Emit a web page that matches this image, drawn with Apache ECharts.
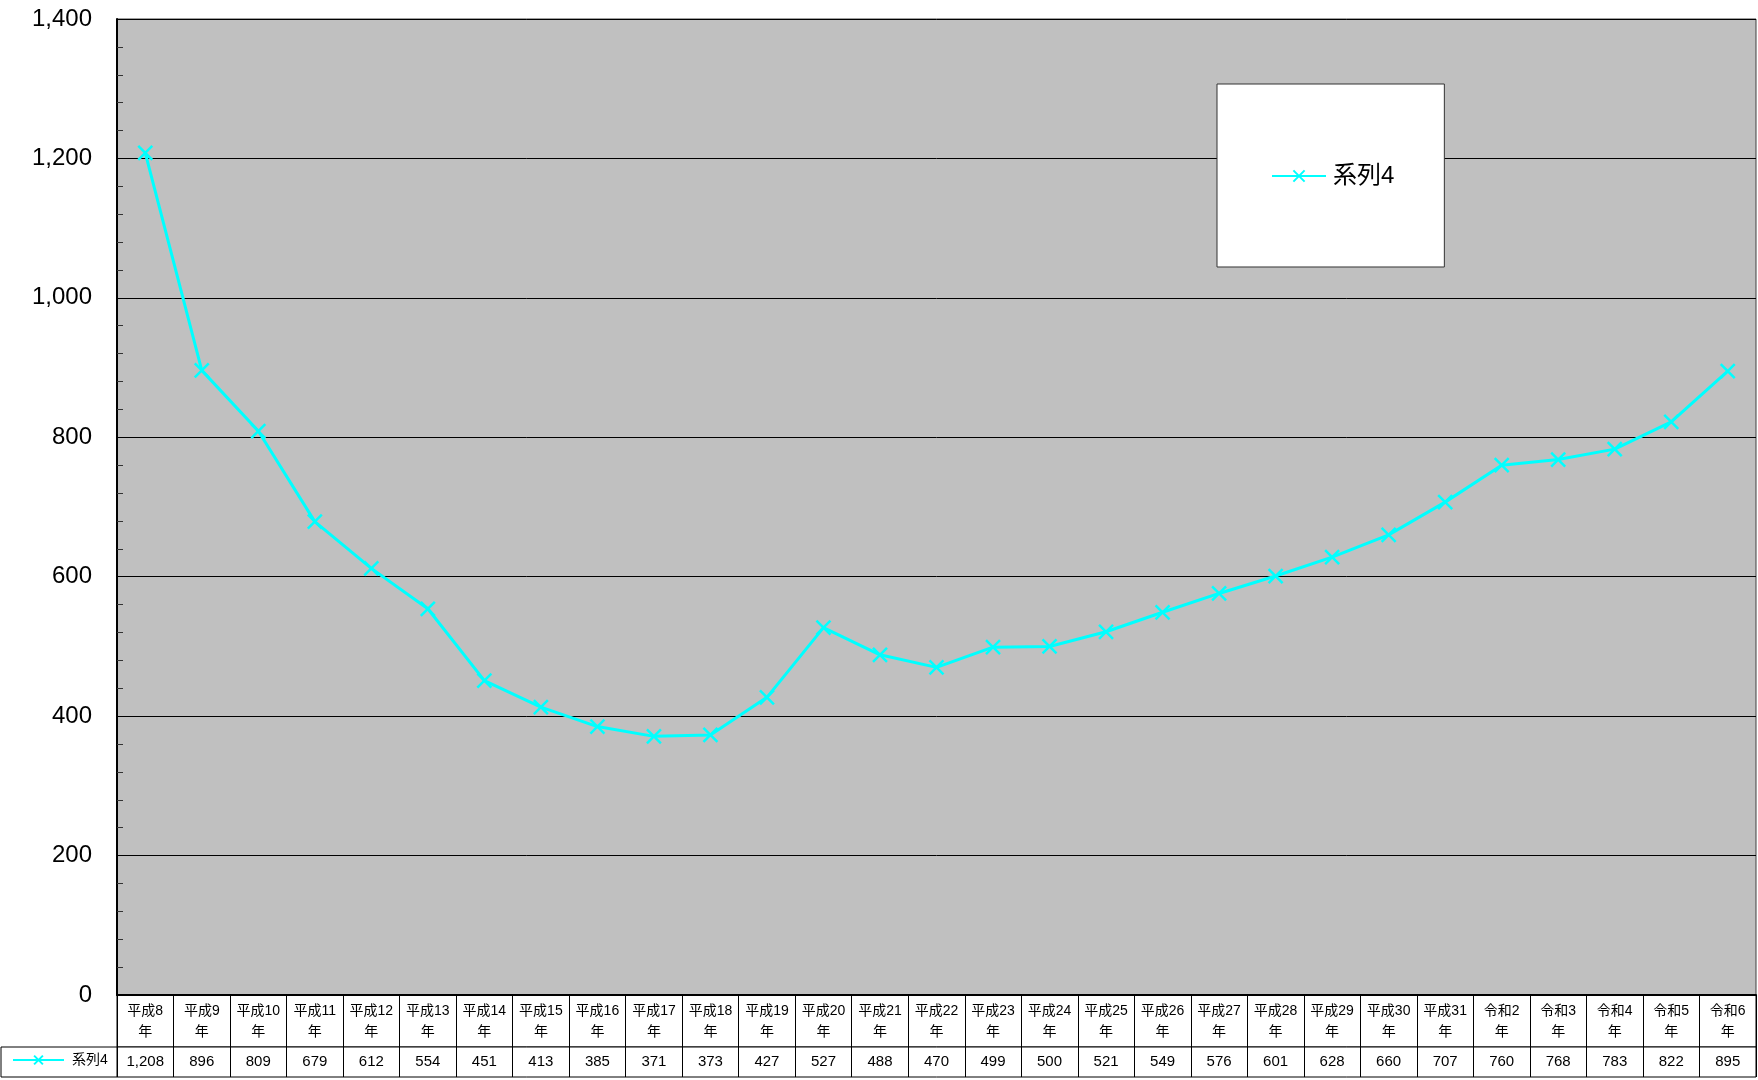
<!DOCTYPE html>
<html>
<head>
<meta charset="utf-8">
<script src="https://cdn.jsdelivr.net/npm/echarts@6/dist/echarts.min.js"></script>
<style>
html,body{margin:0;padding:0;background:#fff;}
#c{width:1758px;height:1080px;}
</style>
</head>
<body>
<div id="c"></div>
<script>
var categories = ['平成8年','平成9年','平成10年','平成11年','平成12年','平成13年','平成14年','平成15年','平成16年','平成17年','平成18年','平成19年','平成20年','平成21年','平成22年','平成23年','平成24年','平成25年','平成26年','平成27年','平成28年','平成29年','平成30年','平成31年','令和2年','令和3年','令和4年','令和5年','令和6年'];
var seriesName = '系列4';
var values = [1208,896,809,679,612,554,451,413,385,371,373,427,527,488,470,499,500,521,549,576,601,628,660,707,760,768,783,822,895];
var yTicks = {min:0, max:1400, interval:200};

var FONT = "'Liberation Sans','Noto Sans CJK JP',sans-serif";
var CYAN = '#00FFFF';
var crossSymbol = 'path://M0,0L10,10M10,0L0,10';

function headerLabel(c){ return c.replace(/年$/, '') + '\n年'; }
function fmt(v){ return v.toLocaleString('en-US'); }

var chart = echarts.init(document.getElementById('c'));
chart.setOption({
  animation:false,
  backgroundColor:'#ffffff',
  textStyle:{fontFamily:FONT},
  grid:[
    {left:117, top:19, right:2, height:976, show:true, backgroundColor:'#C0C0C0', borderColor:'#404040', borderWidth:1},
    {left:117, top:995, right:2, height:52, show:true, borderColor:'#000', borderWidth:1, backgroundColor:'#fff'},
    {left:117, top:1047, right:2, height:30, show:true, borderColor:'#000', borderWidth:1, backgroundColor:'#fff'},
    {left:1, top:1047, width:116, height:30, show:true, borderColor:'#000', borderWidth:1, backgroundColor:'#fff'}
  ],
  legend:[
    {
      left:1217, top:84,
      padding:[80,50,79,54],
      backgroundColor:'#fff', borderColor:'#333', borderWidth:1,
      itemWidth:54, itemHeight:14, itemGap:0,
      textStyle:{fontSize:24, color:'#000', fontFamily:FONT, padding:[0,0,0,2]},
      data:[seriesName]
    },
    {
      left:12, top:1053, padding:0,
      itemWidth:51, itemHeight:11, itemGap:0,
      textStyle:{fontSize:14, color:'#000', fontFamily:FONT, padding:[0,0,0,3]},
      data:[seriesName]
    }
  ],
  xAxis:[
    {
      type:'category', gridIndex:0, data:categories, boundaryGap:true,
      axisLine:{show:true, lineStyle:{color:'#000', width:2}},
      axisTick:{show:false},
      axisLabel:{interval:0, margin:6, fontSize:14, lineHeight:21, color:'#000', fontFamily:FONT, formatter:headerLabel},
      splitLine:{show:false}
    },
    {
      type:'category', gridIndex:1, data:categories, boundaryGap:true,
      axisLine:{show:false}, axisTick:{show:false}, axisLabel:{show:false},
      splitLine:{show:true, interval:0, lineStyle:{color:'#000', width:1}}
    },
    {
      type:'category', gridIndex:2, position:'top', data:values.map(fmt), boundaryGap:true,
      axisLine:{show:false}, axisTick:{show:false},
      axisLabel:{inside:true, interval:0, margin:7, fontSize:15, color:'#000', fontFamily:FONT},
      splitLine:{show:true, interval:0, lineStyle:{color:'#000', width:1}}
    },
    {
      type:'category', gridIndex:3, data:[''], show:false
    }
  ],
  yAxis:[
    {
      type:'value', gridIndex:0, min:yTicks.min, max:yTicks.max, interval:yTicks.interval,
      axisLine:{show:true, lineStyle:{color:'#000', width:2}},
      axisTick:{show:true, inside:true, length:7, lineStyle:{color:'#000'}},
      minorTick:{show:true, splitNumber:5, length:6, lineStyle:{color:'#333'}},
      axisLabel:{margin:25, fontSize:24, color:'#000', fontFamily:FONT, formatter:function(v){return fmt(v);}},
      splitLine:{show:true, lineStyle:{color:'#000', width:1}}
    },
    {type:'value', gridIndex:1, show:false},
    {type:'value', gridIndex:2, show:false},
    {type:'value', gridIndex:3, show:false}
  ],
  series:[
    {
      name:seriesName, type:'line', xAxisIndex:0, yAxisIndex:0, data:values,
      symbol:crossSymbol, symbolSize:14,
      lineStyle:{color:CYAN, width:3},
      itemStyle:{color:CYAN, borderColor:CYAN, borderWidth:2.5},
      showAllSymbol:true
    }
  ]
});
</script>
</body>
</html>
